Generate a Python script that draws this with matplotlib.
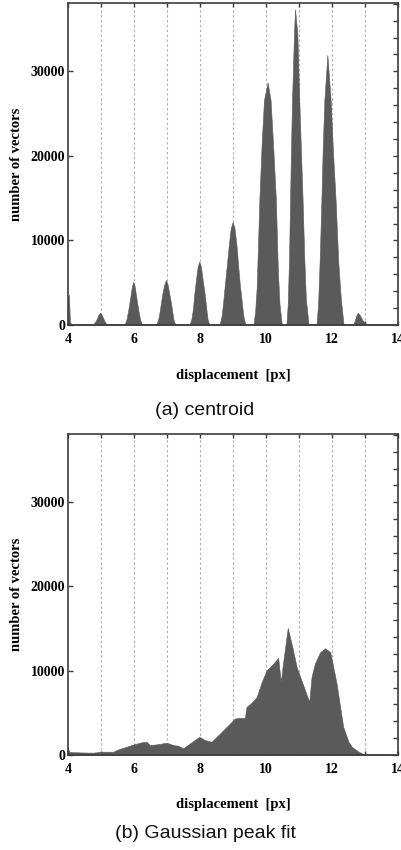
import matplotlib
matplotlib.use("Agg")
import matplotlib.pyplot as plt
from matplotlib.ticker import MultipleLocator, FixedLocator, FixedFormatter

# (a) centroid histogram
centroid_x = [4.00, 4.03, 4.06, 4.10,
              4.76, 4.82, 4.88, 4.93, 4.97, 5.02, 5.07, 5.12, 5.18,
              5.72, 5.77, 5.82, 5.86, 5.90, 5.94, 5.98, 6.02, 6.06, 6.10, 6.14, 6.19, 6.24,
              6.68, 6.73, 6.78, 6.82, 6.86, 6.92, 6.97, 7.02, 7.07, 7.12, 7.16, 7.20, 7.25,
              7.69, 7.74, 7.79, 7.83, 7.88, 7.93, 7.98, 8.03, 8.08, 8.14, 8.19, 8.23, 8.28,
              8.60, 8.66, 8.71, 8.76, 8.81, 8.87, 8.93, 8.99, 9.05, 9.11, 9.16, 9.21, 9.26, 9.31, 9.37,
              9.62, 9.67, 9.72, 9.80, 9.87, 9.94, 10.05, 10.14, 10.22, 10.30, 10.36, 10.41, 10.48,
              10.62, 10.66, 10.70, 10.73, 10.76, 10.79, 10.85, 10.88, 10.95, 11.01, 11.06, 11.11,
              11.16, 11.21, 11.29,
              11.53, 11.58, 11.63, 11.68, 11.72, 11.77, 11.86, 11.96, 12.03, 12.11, 12.19, 12.27, 12.35,
              12.64, 12.69, 12.74, 12.78, 12.84, 12.92, 13.00, 13.06,
              14.00]
centroid_n = [3550, 3550, 400, 100,
              100, 350, 800, 1250, 1450, 1250, 800, 350, 100,
              100, 600, 1600, 2560, 3600, 4600, 5130, 4600, 3600, 2560, 1600, 600, 100,
              100, 600, 1600, 2660, 3700, 4800, 5330, 4800, 3700, 2660, 1600, 600, 100,
              100, 700, 2000, 3750, 5400, 6900, 7500, 6900, 5400, 3750, 2000, 700, 100,
              100, 1200, 3000, 5000, 6900, 9300, 11400, 12200, 11400, 9300, 6900, 4700, 3000, 1200, 100,
              100, 1500, 4500, 14800, 21500, 26600, 28700, 26600, 21000, 14800, 6500, 2500, 100,
              100, 2500, 8000, 14800, 21000, 26600, 34500, 37350, 34500, 26600, 20500, 14800,
              8000, 3000, 100,
              100, 2500, 8000, 14800, 21000, 26600, 31950, 26600, 20500, 14800, 7500, 3000, 100,
              100, 500, 1150, 1450, 1200, 600, 250, 100,
              100]

# (b) Gaussian peak fit histogram
gauss_x = [4.00, 4.05, 4.40, 4.77, 5.02, 5.37, 5.53, 5.78, 6.03, 6.23, 6.38, 6.48,
           6.69, 6.99, 7.19, 7.34, 7.49, 7.70, 7.98, 8.15, 8.35, 8.61, 8.91, 9.06,
           9.21, 9.36, 9.41, 9.56, 9.72, 9.87, 10.02, 10.22, 10.37, 10.45, 10.50,
           10.66, 10.80, 10.93, 11.13, 11.31, 11.38, 11.48, 11.64, 11.79, 11.95,
           12.14, 12.34, 12.50, 12.60, 12.80, 12.95, 13.30, 14.00]
gauss_n = [800, 350, 300, 275, 390, 390, 670, 980, 1300, 1500, 1570, 1180,
           1260, 1460, 1180, 1100, 790, 1380, 2160, 1770, 1570, 2560, 3740, 4330,
           4400, 4400, 5700, 6200, 6890, 8660, 10040, 10830, 11530, 8660, 10400,
           15070, 12800, 10430, 8260, 6300, 9250, 10830, 12200, 12670, 12200,
           8460, 3340, 1580, 980, 400, 120, 80, 60]

panels = [(centroid_x, centroid_n, "(a) centroid"),
          (gauss_x, gauss_n, "(b) Gaussian peak fit")]
x_ticks = list(range(4, 15))
x_labels = [str(t) if t % 2 == 0 else "" for t in x_ticks]
y_ticks = [0, 10000, 20000, 30000]

serif = "Liberation Serif"
fill_col = "#5a5a5a"
spine_col = "#3c3c3c"

fig = plt.figure(figsize=(4.02, 8.5), dpi=100)
rects = [[0.169, 0.6176, 0.821, 0.379], [0.169, 0.1118, 0.821, 0.3776]]
caption_y = [1 - 410 / 850, 1 - 833 / 850]

for (xs, ns, caption), rect, cy in zip(panels, rects, caption_y):
    ax = fig.add_axes(rect)
    ax.fill_between(xs, ns, 0, color=fill_col, lw=0.4, edgecolor=fill_col, zorder=2)
    ax.set_xlim(4, 14)
    ax.set_ylim(0, 38100)

    ax.xaxis.set_major_locator(FixedLocator(x_ticks))
    ax.xaxis.set_major_formatter(FixedFormatter(x_labels))
    ax.yaxis.set_major_locator(FixedLocator(y_ticks))
    ax.yaxis.set_minor_locator(MultipleLocator(2000))

    for gx in range(5, 14):
        ax.axvline(gx, color="#b0b0b0", lw=0.8, ls=(0, (2.2, 2.2)), zorder=1)

    ax.tick_params(axis="x", which="major", direction="in", top=True, bottom=True,
                   length=3, width=1, color=spine_col, pad=6)
    ax.tick_params(axis="y", which="major", direction="in", left=True, right=True,
                   length=3.5, width=1, color=spine_col, pad=2)
    ax.tick_params(axis="y", which="minor", direction="in", left=False, right=True,
                   length=3.5, width=1, color=spine_col)
    for lab in ax.get_xticklabels() + ax.get_yticklabels():
        lab.set_fontfamily(serif)
        lab.set_fontweight("bold")
        lab.set_fontsize(10)

    for sp in ax.spines.values():
        sp.set_color(spine_col)
        sp.set_linewidth(1.2)

    h_px = rect[3] * 850
    ax.set_xlabel("displacement  [px]", fontfamily=serif, fontweight="bold",
                  fontsize=10.5, va="center")
    ax.xaxis.set_label_coords(0.5, -50 / h_px)
    ax.set_ylabel("number of vectors", fontfamily=serif, fontweight="bold",
                  fontsize=10.5, va="center")
    ax.yaxis.set_label_coords(-51 / 330, 0.5)

    fig.text(0.51, cy, caption, ha="center", va="center",
             fontfamily="Liberation Sans", fontsize=14, color="#111111")

fig.savefig("out.png", dpi=100)
